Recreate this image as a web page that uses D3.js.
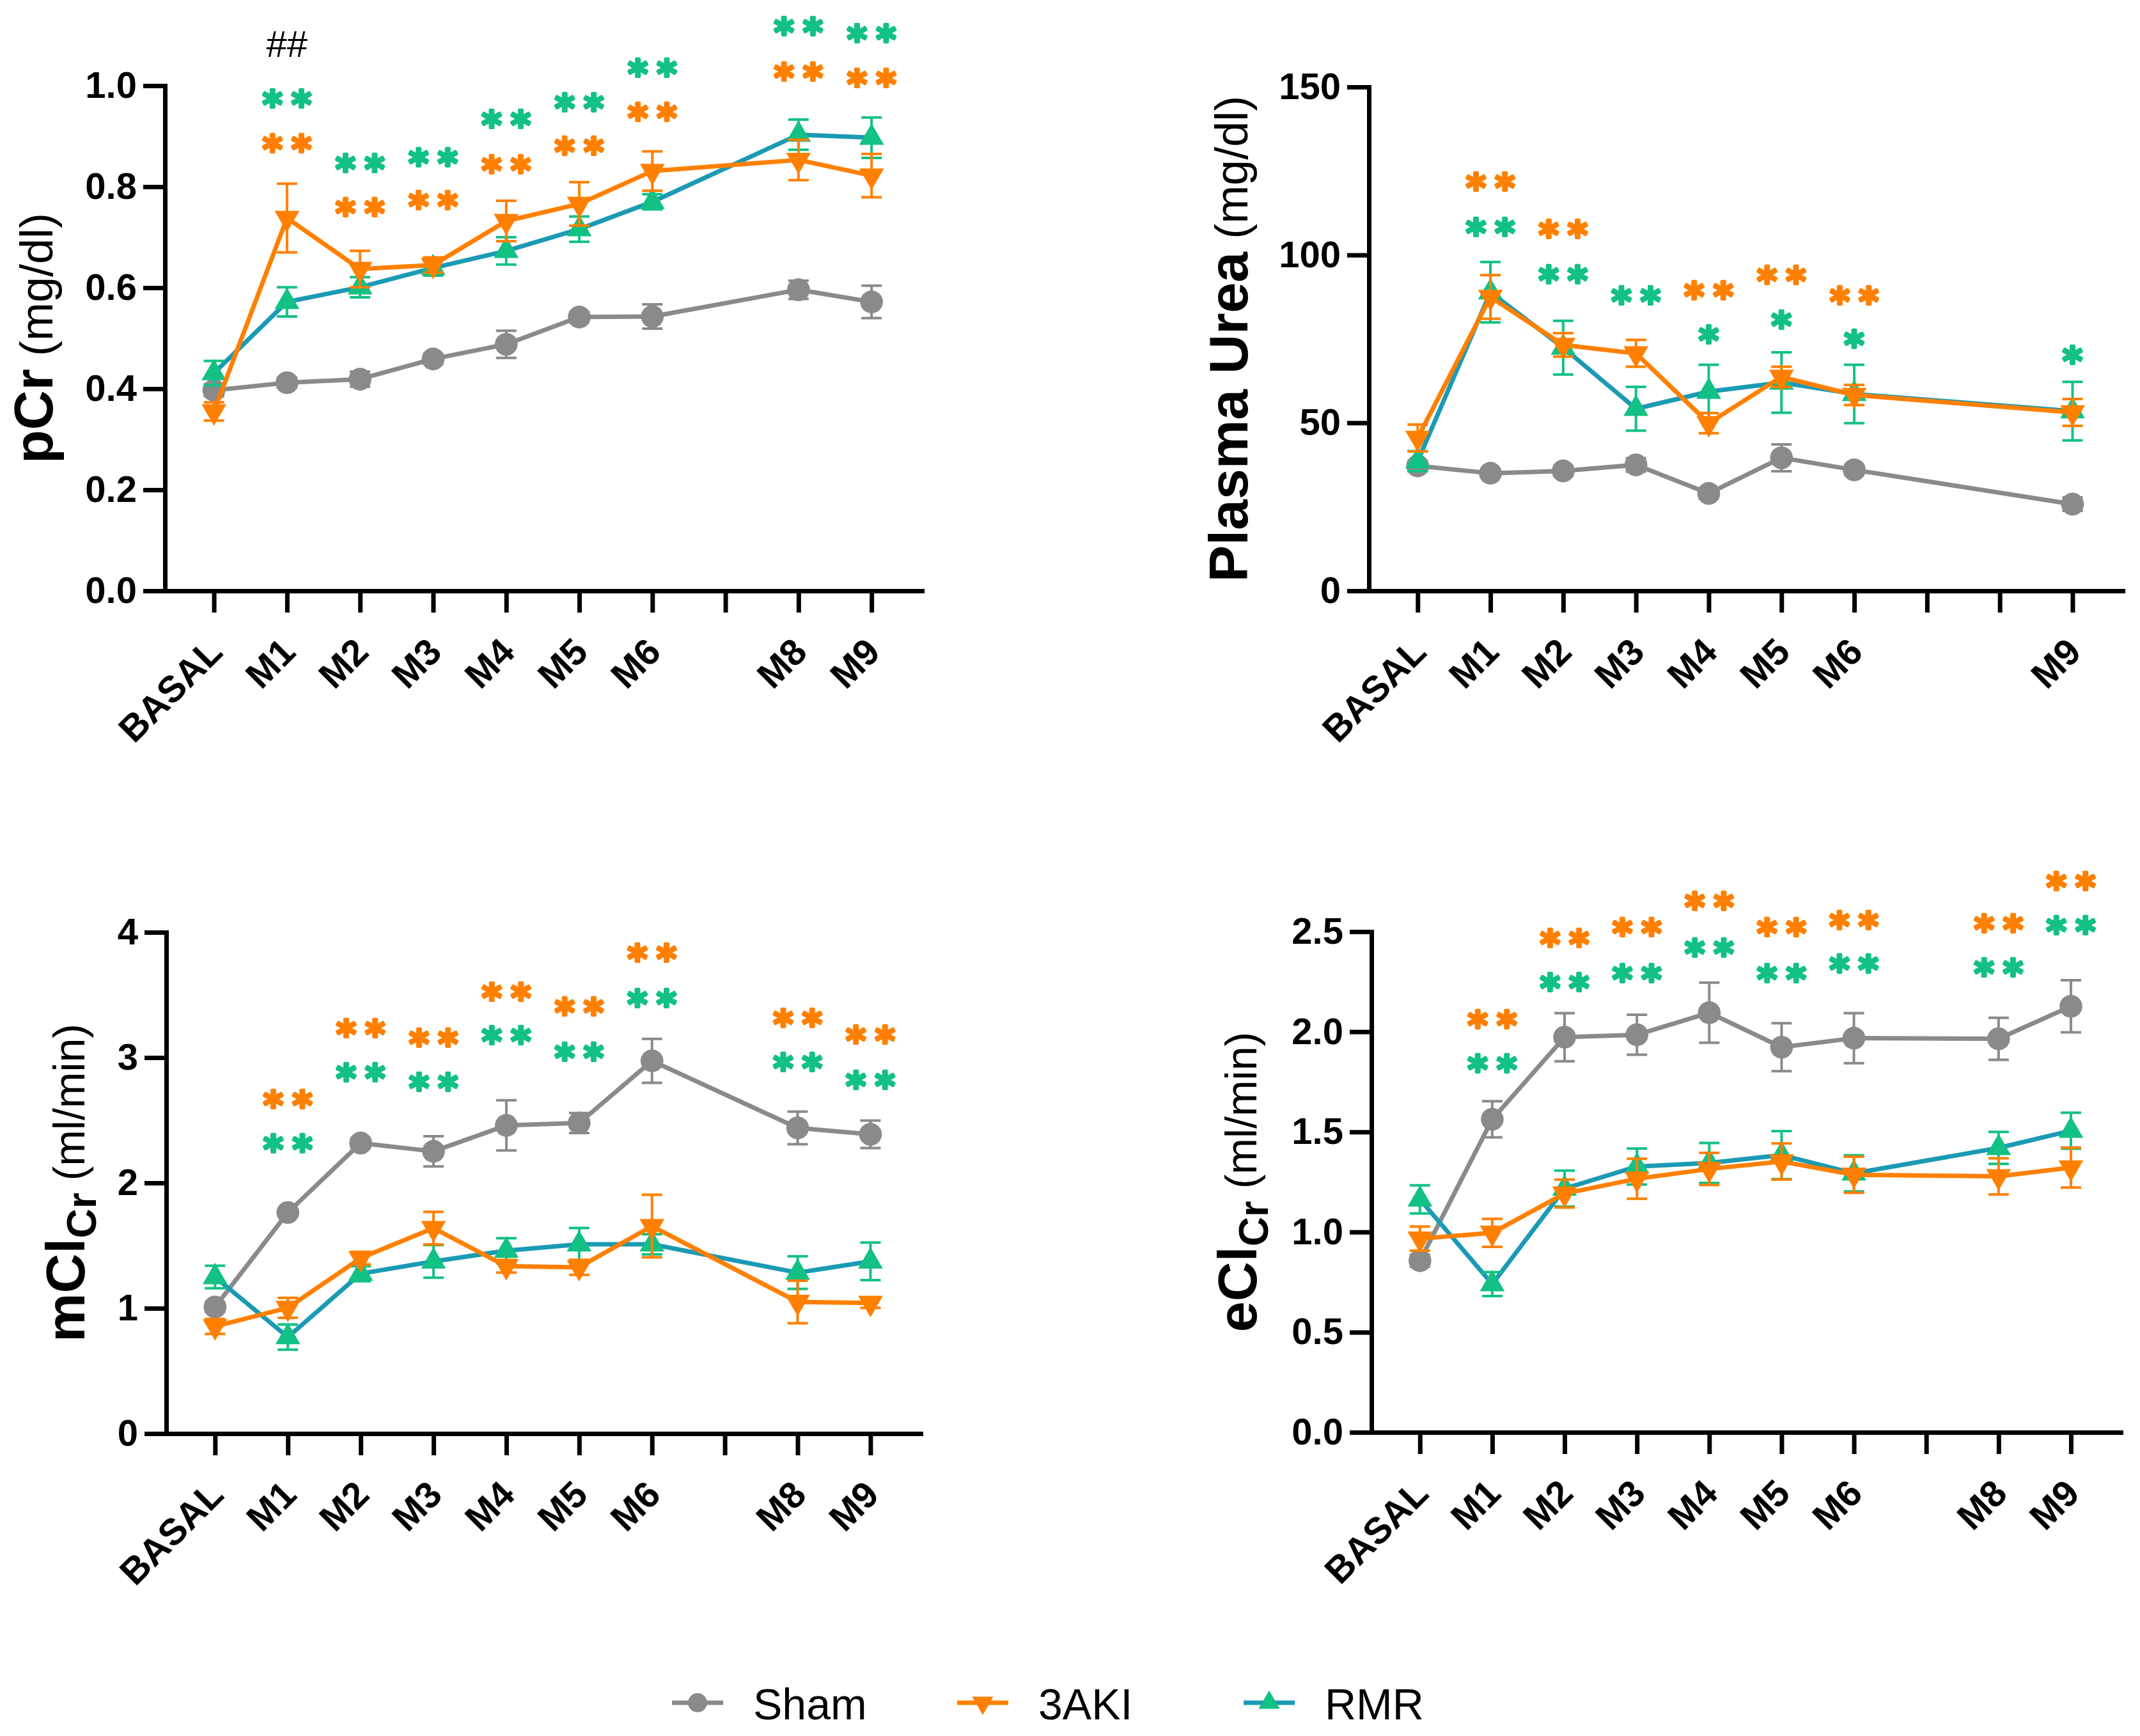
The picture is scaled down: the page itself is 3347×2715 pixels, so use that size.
<!DOCTYPE html>
<html>
<head>
<meta charset="utf-8">
<script src="https://cdn.jsdelivr.net/npm/d3@7"></script>
<style>
  body { margin: 0; background: #fff; }
  svg { display: block; }
  text { font-family: "Liberation Sans", Arial, sans-serif; }
</style>
</head>
<body>
<div id="chart"></div>
<script>
// ---------- data ----------
const tickLabels = ["BASAL", "M1", "M2", "M3", "M4", "M5", "M6", "", "M8", "M9"];
const monthsAll = [0, 1, 2, 3, 4, 5, 6, 8, 9];
const monthsUrea = [0, 1, 2, 3, 4, 5, 6, 9];
const seriesNames = ["Sham", "3AKI", "RMR"];

// pCr (mg/dl)
const pcrSham = [0.397, 0.412, 0.419, 0.459, 0.488, 0.542, 0.543, 0.596, 0.572];
const pcrShamErr = [0.012, 0.01, 0.015, 0.01, 0.027, 0.01, 0.024, 0.018, 0.032];
const pcrAki = [0.355, 0.738, 0.637, 0.645, 0.732, 0.766, 0.831, 0.853, 0.822];
const pcrAkiErr = [0.018, 0.068, 0.036, 0.015, 0.04, 0.043, 0.039, 0.04, 0.043];
const pcrRmr = [0.431, 0.572, 0.601, 0.639, 0.673, 0.716, 0.77, 0.903, 0.897];
const pcrRmrErr = [0.024, 0.029, 0.02, 0.015, 0.027, 0.025, 0.015, 0.03, 0.04];
const pcrAkiStars = [[1, 0.89, "**"], [2, 0.763, "**"], [3, 0.777, "**"], [4, 0.847, "**"], [5, 0.884, "**"], [6, 0.951, "**"], [8, 1.031, "**"], [9, 1.019, "**"]];
const pcrRmrStars = [[1, 0.978, "**"], [2, 0.85, "**"], [3, 0.862, "**"], [4, 0.937, "**"], [5, 0.971, "**"], [6, 1.039, "**"], [8, 1.121, "**"], [9, 1.107, "**"]];
const pcrHash = [[1, 1.09, "##"]];

// Plasma urea (mg/dl)
const ureaSham = [37.2, 35.0, 35.7, 37.5, 29.0, 39.6, 36.0, 25.8];
const ureaShamErr = [1.5, 1, 1.5, 2, 1.5, 4, 1.5, 2];
const ureaAki = [45.5, 87.5, 73.2, 70.7, 49.9, 63.7, 58.3, 53.1];
const ureaAkiErr = [4, 6.5, 3.5, 4, 3, 3, 3, 4];
const ureaRmr = [38.6, 88.9, 72.4, 54.2, 59.3, 62.0, 58.6, 53.5];
const ureaRmrErr = [3, 9, 8, 6.5, 8, 9, 8.7, 8.7];
const ureaAkiStars = [[1, 122.3, "**"], [2, 108.2, "**"], [4, 89.9, "**"], [5, 94.6, "**"], [6, 88.5, "**"]];
const ureaRmrStars = [[1, 108.9, "**"], [2, 94.8, "**"], [3, 88.5, "**"], [4, 76.8, "*"], [5, 81.2, "*"], [6, 75.4, "*"], [9, 70.7, "*"]];

// mClCr (ml/min)
const mclSham = [1.01, 1.764, 2.318, 2.252, 2.459, 2.478, 2.974, 2.439, 2.388];
const mclShamErr = [0.04, 0.03, 0.04, 0.12, 0.2, 0.08, 0.175, 0.13, 0.11];
const mclAki = [0.855, 1.003, 1.4, 1.639, 1.335, 1.327, 1.655, 1.05, 1.042];
const mclAkiErr = [0.06, 0.08, 0.05, 0.13, 0.05, 0.06, 0.25, 0.17, 0.04];
const mclRmr = [1.249, 0.77, 1.276, 1.374, 1.459, 1.51, 1.51, 1.284, 1.374];
const mclRmrErr = [0.09, 0.1, 0.06, 0.13, 0.1, 0.13, 0.08, 0.13, 0.15];
const mclAkiStars = [[1, 2.68, "**"], [2, 3.247, "**"], [3, 3.17, "**"], [4, 3.54, "**"], [5, 3.42, "**"], [6, 3.85, "**"], [8, 3.33, "**"], [9, 3.196, "**"]];
const mclRmrStars = [[1, 2.33, "**"], [2, 2.896, "**"], [3, 2.82, "**"], [4, 3.19, "**"], [5, 3.06, "**"], [6, 3.49, "**"], [8, 2.98, "**"], [9, 2.837, "**"]];

// eClCr (ml/min)
const eclSham = [0.857, 1.563, 1.973, 1.985, 2.095, 1.923, 1.968, 1.965, 2.127];
const eclShamErr = [0.03, 0.09, 0.12, 0.1, 0.15, 0.12, 0.125, 0.105, 0.13];
const eclAki = [0.967, 0.996, 1.192, 1.266, 1.315, 1.352, 1.286, 1.278, 1.322];
const eclAkiErr = [0.06, 0.07, 0.07, 0.1, 0.08, 0.09, 0.09, 0.09, 0.1];
const eclRmr = [1.163, 0.74, 1.217, 1.327, 1.345, 1.384, 1.293, 1.42, 1.506];
const eclRmrErr = [0.07, 0.06, 0.09, 0.09, 0.1, 0.12, 0.09, 0.08, 0.09];
const eclAkiStars = [[1, 2.07, "**"], [2, 2.475, "**"], [3, 2.53, "**"], [4, 2.66, "**"], [5, 2.53, "**"], [6, 2.566, "**"], [8, 2.55, "**"], [9, 2.76, "**"]];
const eclRmrStars = [[1, 1.85, "**"], [2, 2.255, "**"], [3, 2.3, "**"], [4, 2.43, "**"], [5, 2.3, "**"], [6, 2.35, "**"], [8, 2.33, "**"], [9, 2.54, "**"]];

// ---------- styles ----------
const grey = "#8a8a8a";
const orange = "#ff8000";
const teal = "#1b9ab4";
const green = "#12c183";

const W = 3347, H = 2715;
const svg = d3.select("#chart").append("svg")
  .attr("width", W).attr("height", H)
  .attr("viewBox", `0 0 ${W} ${H}`);
svg.append("rect").attr("width", W).attr("height", H).attr("fill", "#fff");

const zip = (ms, vs, es) => ms.map((m, i) => ({ m: m, v: vs[i], e: es[i] }));

function drawPanel(p) {
  const x = d3.scaleLinear().domain([-0.67, 9.69]).range([p.left, p.right]);
  const y = d3.scaleLinear().domain(p.yDomain).range([p.bottom, p.top]);
  const g = svg.append("g");

  // x axis
  const gx = g.append("g")
    .attr("transform", `translate(0,${p.bottom})`)
    .call(d3.axisBottom(x)
      .tickValues(d3.range(10))
      .tickSize(34)
      .tickSizeOuter(0)
      .tickFormat(i => p.labels[i]));
  gx.selectAll("text")
    .attr("x", 0).attr("y", 0).attr("dy", 0)
    .attr("transform", "translate(16,99) rotate(-45)")
    .style("text-anchor", "end");

  // y axis
  const gy = g.append("g")
    .attr("transform", `translate(${p.left},0)`)
    .call(d3.axisLeft(y)
      .tickValues(p.yTicks)
      .tickSize(34)
      .tickSizeOuter(0)
      .tickPadding(10)
      .tickFormat(p.fmt));

  [gx, gy].forEach(a => {
    a.attr("font-family", null).attr("font-size", null);
    a.select(".domain").attr("stroke", "#000").attr("stroke-width", 7).attr("stroke-linecap", "square");
    a.selectAll(".tick line").attr("stroke", "#000").attr("stroke-width", 7);
    a.selectAll("text").attr("fill", "#000")
      .style("font-size", "58px").style("font-weight", "bold");
  });

  // y title
  const t = g.append("text")
    .attr("transform", `translate(${p.titleX},${(p.top + p.bottom) / 2}) rotate(-90)`)
    .attr("text-anchor", "middle")
    .attr("fill", "#000");
  t.append("tspan").style("font-weight", "bold").style("font-size", "86px").text(p.title[0]);
  if (p.title[1]) {
    t.append("tspan").style("font-weight", "bold").style("font-size", "64px").attr("dy", 18).text(p.title[1]);
    t.append("tspan").style("font-size", "68px").attr("dy", -18).text(" " + p.title[2]);
  } else {
    t.append("tspan").style("font-size", "72px").text(" " + p.title[2]);
  }

  // series
  const line = d3.line().x(d => x(d.m)).y(d => y(d.v));
  p.series.forEach(s => {
    const sg = g.append("g");
    sg.append("path").datum(s.data)
      .attr("d", line)
      .attr("fill", "none")
      .attr("stroke", s.line)
      .attr("stroke-width", 7)
      .attr("stroke-linejoin", "round");

    const eb = sg.selectAll(".eb").data(s.data).join("g")
      .attr("stroke", s.mark).attr("stroke-width", 4);
    eb.append("line")
      .attr("x1", d => x(d.m)).attr("x2", d => x(d.m))
      .attr("y1", d => y(d.v - d.e)).attr("y2", d => y(d.v + d.e));
    eb.append("line")
      .attr("x1", d => x(d.m) - 16).attr("x2", d => x(d.m) + 16)
      .attr("y1", d => y(d.v + d.e)).attr("y2", d => y(d.v + d.e));
    eb.append("line")
      .attr("x1", d => x(d.m) - 16).attr("x2", d => x(d.m) + 16)
      .attr("y1", d => y(d.v - d.e)).attr("y2", d => y(d.v - d.e));

    sg.selectAll(".mk").data(s.data).join("path")
      .attr("d", d3.symbol().type(s.symbol).size(s.size))
      .attr("fill", s.mark)
      .attr("transform", d => `translate(${x(d.m)},${y(d.v)}) rotate(${s.rot})`);
  });

  // significance marks
  p.marks.forEach(mk => {
    g.selectAll(null).data(mk.data).join("text")
      .attr("x", d => x(d[0]) + mk.spacing / 2)
      .attr("y", d => y(d[1]))
      .attr("dy", mk.dy)
      .attr("text-anchor", "middle")
      .attr("fill", mk.color)
      .attr("stroke", mk.stroke ? mk.color : null)
      .attr("stroke-width", mk.stroke || null)
      .attr("stroke-linejoin", "round")
      .style("font-family", mk.family)
      .style("font-size", mk.size)
      .style("font-weight", mk.weight)
      .style("letter-spacing", mk.spacing + "px")
      .text(d => d[2]);
  });
}

function seriesFor(ms, sham, shamE, aki, akiE, rmr, rmrE) {
  return [
    { data: zip(ms, sham, shamE), line: grey, mark: grey, symbol: d3.symbolCircle, size: 1000, rot: 0 },
    { data: zip(ms, rmr, rmrE), line: teal, mark: green, symbol: d3.symbolTriangle, size: 650, rot: 0 },
    { data: zip(ms, aki, akiE), line: orange, mark: orange, symbol: d3.symbolTriangle, size: 650, rot: 180 }
  ];
}

const starStyle = (data, color) => ({
  data: data, color: color, family: "DejaVu Sans", size: "60px", weight: "bold",
  dy: "0.56em", spacing: 14, stroke: 4
});

drawPanel({
  left: 258, right: 1442, top: 134, bottom: 924,
  yDomain: [0, 1], yTicks: [0, 0.2, 0.4, 0.6, 0.8, 1.0], fmt: d3.format(".1f"),
  labels: tickLabels, titleX: 82, title: ["pCr", null, "(mg/dl)"],
  series: seriesFor(monthsAll, pcrSham, pcrShamErr, pcrAki, pcrAkiErr, pcrRmr, pcrRmrErr),
  marks: [starStyle(pcrAkiStars, orange), starStyle(pcrRmrStars, green),
    { data: pcrHash, color: "#000", family: "Liberation Sans", size: "58px", weight: "normal", dy: "0.45em", spacing: 0 }]
});

drawPanel({
  left: 2141, right: 3320, top: 136, bottom: 924,
  yDomain: [0, 150], yTicks: [0, 50, 100, 150], fmt: d3.format("d"),
  labels: tickLabels.map((l, i) => (i === 8 ? "" : l)), titleX: 1951, title: ["Plasma Urea", null, "(mg/dl)"],
  series: seriesFor(monthsUrea, ureaSham, ureaShamErr, ureaAki, ureaAkiErr, ureaRmr, ureaRmrErr),
  marks: [starStyle(ureaAkiStars, orange), starStyle(ureaRmrStars, green)]
});

drawPanel({
  left: 260, right: 1440, top: 1458, bottom: 2242,
  yDomain: [0, 4], yTicks: [0, 1, 2, 3, 4], fmt: d3.format("d"),
  labels: tickLabels, titleX: 132, title: ["mCl", "Cr", "(ml/min)"],
  series: seriesFor(monthsAll, mclSham, mclShamErr, mclAki, mclAkiErr, mclRmr, mclRmrErr),
  marks: [starStyle(mclAkiStars, orange), starStyle(mclRmrStars, green)]
});

drawPanel({
  left: 2145, right: 3317, top: 1457, bottom: 2240,
  yDomain: [0, 2.5], yTicks: [0, 0.5, 1.0, 1.5, 2.0, 2.5], fmt: d3.format(".1f"),
  labels: tickLabels, titleX: 1965, title: ["eCl", "Cr", "(ml/min)"],
  series: seriesFor(monthsAll, eclSham, eclShamErr, eclAki, eclAkiErr, eclRmr, eclRmrErr),
  marks: [starStyle(eclAkiStars, orange), starStyle(eclRmrStars, green)]
});

// ---------- legend ----------
const legendX = [1091, 1537, 1985];
const legendY = 2663;
const legendItems = [
  { line: grey, mark: grey, symbol: d3.symbolCircle, size: 700, rot: 0 },
  { line: orange, mark: orange, symbol: d3.symbolTriangle, size: 480, rot: 180 },
  { line: teal, mark: green, symbol: d3.symbolTriangle, size: 480, rot: 0 }
];
const lg = svg.append("g");
const li = lg.selectAll("g").data(seriesNames).join("g")
  .attr("transform", (d, i) => `translate(${legendX[i]},${legendY})`);
li.append("line")
  .attr("x1", -40).attr("x2", 40)
  .attr("stroke", (d, i) => legendItems[i].line)
  .attr("stroke-width", 7);
li.append("path")
  .attr("d", (d, i) => d3.symbol().type(legendItems[i].symbol).size(legendItems[i].size)())
  .attr("fill", (d, i) => legendItems[i].mark)
  .attr("transform", (d, i) => `rotate(${legendItems[i].rot})`);
li.append("text")
  .attr("x", 87).attr("y", 26)
  .style("font-size", "68px")
  .attr("fill", "#000")
  .text(d => d);
</script>
</body>
</html>
